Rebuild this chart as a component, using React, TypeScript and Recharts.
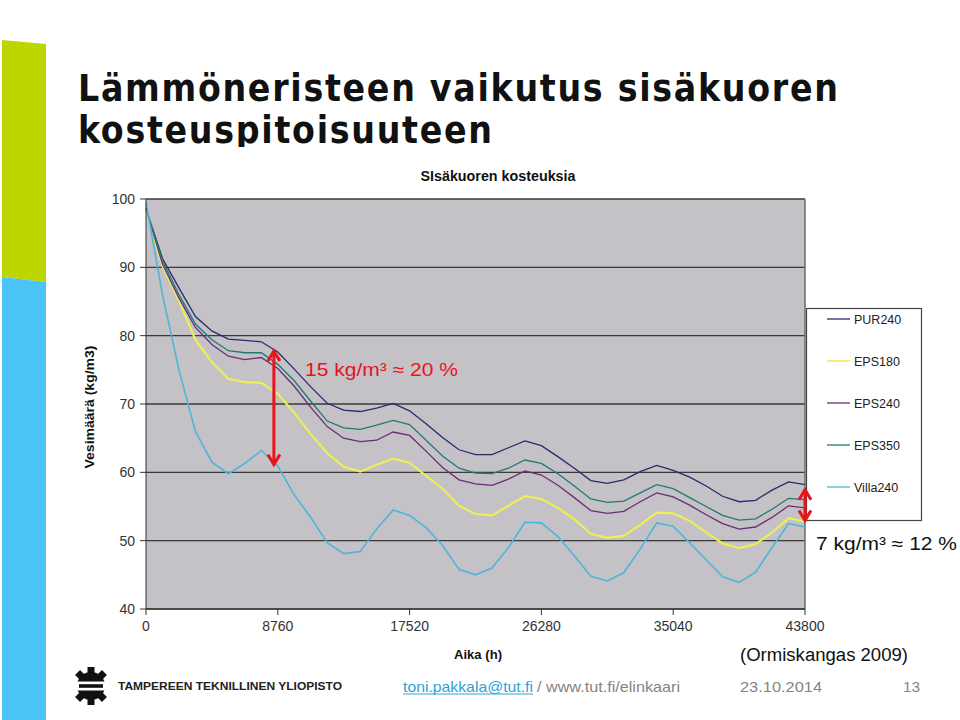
import { CartesianGrid, Line, LineChart, ReferenceLine, XAxis, YAxis } from "recharts"

// hours, one sample per 1/8 year
const HOURS = [
  0, 1095, 2190, 3285, 4380, 5475, 6570, 7665, 8760, 9855, 10950, 12045, 13140, 14235, 15330,
  16425, 17520, 18615, 19710, 20805, 21900, 22995, 24090, 25185, 26280, 27375, 28470, 29565,
  30660, 31755, 32850, 33945, 35040, 36135, 37230, 38325, 39420, 40515, 41610, 42705, 43800,
]

const PUR240 = [
  98.6, 91.3, 87.0, 82.8, 80.7, 79.5, 79.3, 79.1, 77.6, 75.1, 72.5, 70.1, 69.1, 68.9, 69.4, 70.1,
  69.0, 67.1, 65.1, 63.3, 62.6, 62.6, 63.6, 64.6, 63.9, 62.3, 60.6, 58.8, 58.4, 58.9, 60.1, 61.0,
  60.3, 59.3, 58.0, 56.5, 55.7, 55.9, 57.4, 58.6, 58.2,
]
const EPS180 = [
  98.6, 90.2, 85.1, 79.4, 76.1, 73.7, 73.2, 73.1, 71.5, 68.7, 65.6, 62.8, 60.8, 60.1, 61.1, 62.0,
  61.4, 59.5, 57.6, 55.1, 53.9, 53.7, 55.1, 56.5, 56.1, 54.8, 53.1, 51.0, 50.4, 50.7, 52.3, 54.1,
  54.0, 52.9, 51.2, 49.6, 48.9, 49.5, 51.2, 53.3, 52.8,
]
const EPS240 = [
  98.6, 90.5, 85.5, 81.2, 78.7, 77.0, 76.5, 76.8, 75.2, 72.6, 69.5, 66.7, 65.0, 64.5, 64.7, 65.9,
  65.4, 63.1, 60.7, 58.9, 58.3, 58.1, 59.0, 60.2, 59.6, 58.1, 56.3, 54.4, 54.0, 54.3, 55.7, 57.0,
  56.4, 55.2, 53.8, 52.5, 51.7, 52.0, 53.4, 55.1, 54.8,
]
const EPS350 = [
  98.6, 91.0, 86.0, 81.7, 79.4, 77.8, 77.5, 77.5, 75.8, 73.4, 70.4, 67.5, 66.5, 66.3, 66.9, 67.6,
  67.0, 64.7, 62.4, 60.6, 59.9, 59.8, 60.6, 61.8, 61.3, 59.8, 58.0, 56.1, 55.6, 55.8, 57.0, 58.2,
  57.6, 56.3, 55.0, 53.7, 53.0, 53.2, 54.6, 56.2, 56.0,
]
const VILLA240 = [
  99.5, 86.0, 75.0, 66.0, 61.5, 59.8, 61.3, 63.2, 60.9, 56.7, 53.4, 49.7, 48.1, 48.4, 51.7, 54.5,
  53.7, 51.9, 49.3, 45.8, 45.0, 46.0, 49.0, 52.7, 52.6, 50.6, 47.8, 44.8, 44.1, 45.3, 48.8, 52.6,
  52.1, 49.7, 47.2, 44.7, 43.9, 45.4, 49.0, 52.5, 52.0,
]

const X_TICKS = [0, 8760, 17520, 26280, 35040, 43800]
const Y_TICKS = [40, 50, 60, 70, 80, 90, 100]

const SERIES = [
  { key: "PUR240", values: PUR240, color: "#2b2a6c", width: 1.3 },
  { key: "EPS180", values: EPS180, color: "#eeee55", width: 2.2 },
  { key: "EPS240", values: EPS240, color: "#6b2c78", width: 1.3 },
  { key: "EPS350", values: EPS350, color: "#207a72", width: 1.3 },
  { key: "Villa240", values: VILLA240, color: "#4cb6da", width: 1.6 },
]

// the two red difference arrows: [hours, top, bottom]
const ARROW_LEFT = [8500, 77.9, 61.0]
const ARROW_RIGHT = [43800, 57.6, 52.8]

const RED = "#e8141c"
const NARROW = "'Liberation Sans Narrow', 'Arial Narrow', 'Liberation Sans', Arial, sans-serif"
const SANS = "'Liberation Sans', Arial, sans-serif"
const TITLE = "'DejaVu Sans Condensed', 'Liberation Sans', sans-serif"

const data = HOURS.map((h, i) => {
  const row: Record<string, number> = { h }
  SERIES.forEach((s) => (row[s.key] = s.values[i]))
  return row
})

function Arrow(props: any) {
  const { x1, y1, x2, y2 } = props
  if (x1 == null || y1 == null) return null
  const x = (x1 + x2) / 2
  const top = Math.min(y1, y2)
  const bottom = Math.max(y1, y2)
  return (
    <g>
      <line x1={x} y1={top + 2} x2={x} y2={bottom - 2} stroke={RED} strokeWidth={3} />
      <polyline
        points={`${x - 6},${top + 11} ${x},${top + 1} ${x + 6},${top + 11}`}
        fill="none"
        stroke={RED}
        strokeWidth={3}
      />
      <polyline
        points={`${x - 6},${bottom - 11} ${x},${bottom - 1} ${x + 6},${bottom - 11}`}
        fill="none"
        stroke={RED}
        strokeWidth={3}
      />
    </g>
  )
}

function Gear() {
  const teeth = [0, 45, 90, 135, 180, 225, 270, 315]
  return (
    <g transform="translate(91,686)">
      {teeth.map((a) => (
        <rect key={a} x={-3.5} y={-19} width={7} height={8} fill="#111" transform={`rotate(${a})`} />
      ))}
      <circle r={14} fill="#111" />
      <rect x={-22} y={-4.5} width={44} height={9} fill="#fff" />
      <rect x={-12} y={-1.8} width={24} height={3.6} fill="#111" />
    </g>
  )
}

export default function App() {
  return (
    <div style={{ position: "absolute", left: 0, top: 0, width: 960, height: 720, background: "#fff", overflow: "hidden" }}>
      {/* slide chrome, title and legend (below the chart layer) */}
      <svg width={960} height={720} style={{ position: "absolute", left: 0, top: 0 }}>
        <polygon points="2,40 46,44 46,282 2,277" fill="#bcd700" />
        <polygon points="2,277 46,282 46,720 2,720" fill="#4dc4f8" />
        <text x={78} y={101} fontFamily={TITLE} fontWeight={700} fontSize={37} fill="#111"
          textLength={760} lengthAdjust="spacing">
          Lämmöneristeen vaikutus sisäkuoren
        </text>
        <text x={78} y={143} fontFamily={TITLE} fontWeight={700} fontSize={37} fill="#111"
          textLength={414} lengthAdjust="spacing">
          kosteuspitoisuuteen
        </text>
        <rect x={60} y={147} width={880} height={520} fill="#fff" />

        <rect x={806.5} y={308.5} width={115} height={212} fill="#fff" stroke="#444" strokeWidth={1.2} />
        {SERIES.map((s, i) => (
          <g key={s.key}>
            <line x1={827} x2={850} y1={319 + i * 42} y2={319 + i * 42} stroke={s.color}
              strokeWidth={s.key === "EPS180" ? 1.6 : 1.3} />
            <text x={854} y={323.5 + i * 42} fontFamily={NARROW} fontSize={12.5} fill="#222">
              {s.key}
            </text>
          </g>
        ))}
      </svg>

      <div style={{ position: "absolute", left: 0, top: 0 }}>
        <LineChart width={960} height={720} data={data} margin={{ top: 199, right: 155, bottom: 81, left: 106 }}>
          <CartesianGrid fill="#c4c1c7" fillOpacity={1} stroke="#3a3a3a" strokeWidth={1.3} vertical={false} />
          <XAxis
            dataKey="h"
            type="number"
            domain={[0, 43800]}
            ticks={X_TICKS}
            height={30}
            tickSize={6}
            tickMargin={6}
            stroke="#333"
            tick={{ fontSize: 14, fill: "#333", fontFamily: NARROW }}
          />
          <YAxis
            domain={[40, 100]}
            ticks={Y_TICKS}
            width={40}
            tickSize={6}
            tickMargin={5}
            stroke="#333"
            tick={{ fontSize: 14, fill: "#333", fontFamily: NARROW }}
          />
          <ReferenceLine x={43800} stroke="#6a6a6a" strokeWidth={1.5} />
          {SERIES.map((s) => (
            <Line
              key={s.key}
              dataKey={s.key}
              type="linear"
              stroke={s.color}
              strokeWidth={s.width}
              dot={false}
              isAnimationActive={false}
            />
          ))}
          <ReferenceLine
            segment={[{ x: ARROW_LEFT[0], y: ARROW_LEFT[1] }, { x: ARROW_LEFT[0], y: ARROW_LEFT[2] }]}
            shape={Arrow}
            ifOverflow="visible"
          />
          <ReferenceLine
            segment={[{ x: ARROW_RIGHT[0], y: ARROW_RIGHT[1] }, { x: ARROW_RIGHT[0], y: ARROW_RIGHT[2] }]}
            shape={Arrow}
            ifOverflow="visible"
          />
        </LineChart>
      </div>

      {/* texts and footer */}
      <svg width={960} height={720} style={{ position: "absolute", left: 0, top: 0, pointerEvents: "none" }}>
        <text x={498} y={181} textAnchor="middle" fontFamily={NARROW} fontWeight={700} fontSize={14} fill="#111"
          textLength={155} lengthAdjust="spacingAndGlyphs">
          SIsäkuoren kosteuksia
        </text>
        <text transform="translate(94,407) rotate(-90)" textAnchor="middle" fontFamily={NARROW} fontWeight={700}
          fontSize={13} fill="#111" textLength={123} lengthAdjust="spacingAndGlyphs">
          Vesimäärä (kg/m3)
        </text>
        <text x={478} y={659} textAnchor="middle" fontFamily={NARROW} fontWeight={700} fontSize={13} fill="#111"
          textLength={48} lengthAdjust="spacingAndGlyphs">
          Aika (h)
        </text>

        <text x={305} y={376} fontFamily={SANS} fontSize={18} fill={RED} textLength={153} lengthAdjust="spacingAndGlyphs">
          15 kg/m³ ≈ 20 %
        </text>
        <text x={816} y={550} fontFamily={SANS} fontSize={18} fill="#111" textLength={141} lengthAdjust="spacingAndGlyphs">
          7 kg/m³ ≈ 12 %
        </text>
        <text x={740} y={661} fontFamily={NARROW} fontSize={18} fill="#111" textLength={168} lengthAdjust="spacingAndGlyphs">
          (Ormiskangas 2009)
        </text>

        <Gear />
        <text x={118} y={690} fontFamily={SANS} fontWeight={700} fontSize={11.5} fill="#222"
          textLength={224} lengthAdjust="spacingAndGlyphs">
          TAMPEREEN TEKNILLINEN YLIOPISTO
        </text>
        <text x={403} y={692} fontFamily={NARROW} fontSize={15} fill="#2ea3d6" textLength={130}
          lengthAdjust="spacingAndGlyphs">
          toni.pakkala@tut.fi
        </text>
        <line x1={403} x2={533} y1={694} y2={694} stroke="#2ea3d6" strokeWidth={1} />
        <text x={537} y={692} fontFamily={NARROW} fontSize={15} fill="#858585" textLength={143}
          lengthAdjust="spacingAndGlyphs">
          / www.tut.fi/elinkaari
        </text>
        <text x={740} y={692} fontFamily={NARROW} fontSize={15} fill="#858585" textLength={82}
          lengthAdjust="spacingAndGlyphs">
          23.10.2014
        </text>
        <text x={903} y={692} fontFamily={NARROW} fontSize={15} fill="#858585" textLength={17}
          lengthAdjust="spacingAndGlyphs">
          13
        </text>
      </svg>
    </div>
  )
}
